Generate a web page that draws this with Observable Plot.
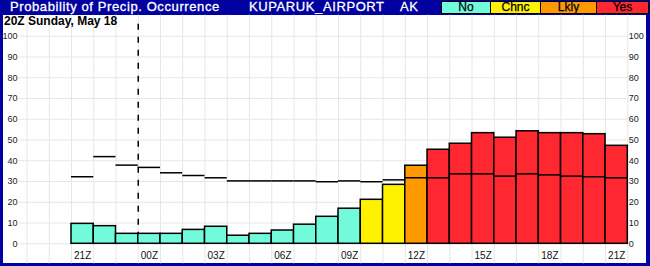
<!DOCTYPE html>
<html><head><meta charset="utf-8">
<script src="https://cdn.jsdelivr.net/npm/d3@7"></script>
<script src="https://cdn.jsdelivr.net/npm/@observablehq/plot@0.6"></script>
<style>
body{margin:0;background:#fff;}
#wrap{position:relative;width:650px;height:266px;background:#0000a0;overflow:hidden;font-family:Arial,"Liberation Sans",sans-serif;}
#panel{position:absolute;left:3px;top:15px;width:643px;height:248px;background:#fff;}
#chart{position:absolute;left:0;top:0;}
.ht{position:absolute;top:0px;color:#fff;font-size:13px;line-height:13px;letter-spacing:0.6px;white-space:nowrap;-webkit-text-stroke:0.3px #fff;}
#sub{position:absolute;left:4px;top:15px;font-size:12px;line-height:12px;font-weight:bold;color:#000;white-space:nowrap;}
.lg{position:absolute;top:1px;height:11px;border:1px solid #000;font-size:12px;line-height:11px;text-align:center;color:#000;box-sizing:content-box;-webkit-text-stroke:0.25px #000;}
</style></head>
<body>
<div id="wrap">
  <div id="panel"></div>
  <div id="chart"></div>
  <div class="ht" style="left:10px">Probability of Precip. Occurrence</div>
  <div class="ht" style="left:249px">KUPARUK_AIRPORT</div>
  <div class="ht" style="left:400px">AK</div>
  <div id="legend"></div>
  <div id="sub">20Z Sunday, May 18</div>
</div>
<script>
// Hourly categories (21Z Sun .. 21Z Mon)
const hourLabels = ["21Z","22Z","23Z","00Z","01Z","02Z","03Z","04Z","05Z","06Z","07Z","08Z","09Z","10Z","11Z","12Z","13Z","14Z","15Z","16Z","17Z","18Z","19Z","20Z","21Z"];
// Probability of precipitation occurrence (bars)
const popValues = [9.6, 8.5, 4.8, 4.8, 4.8, 6.7, 8.2, 3.9, 4.8, 6.4, 9.2, 13, 16.9, 21.2, 28.4, 37.6, 45.3, 48.2, 53.3, 51.1, 54.2, 53.3, 53.3, 52.8, 47.2];
// Reference line values (black segments)
const refValues = [32.3, 42, 37.9, 36.8, 34.2, 32.9, 31.8, 30.3, 30.3, 30.3, 30.3, 29.9, 30.3, 29.9, 30.8, 31.8, 31.8, 33.7, 33.7, 32.6, 33.7, 33.2, 32.6, 32.3, 31.8];
// Category of each hour
const popCategory = ["No","No","No","No","No","No","No","No","No","No","No","No","No","Chnc","Chnc","Lkly","Yes","Yes","Yes","Yes","Yes","Yes","Yes","Yes","Yes"];
const categoryNames = ["No","Chnc","Lkly","Yes"];
const categoryColors = ["#72fbdb","#fff200","#ff9900","#ff2830"];
// Axis ticks
const xTickLabels = ["21Z","00Z","03Z","06Z","09Z","12Z","15Z","18Z","21Z"];
const xTickHours = [0,3,6,9,12,15,18,21,24];
const yTicks = [0,10,20,30,40,50,60,70,80,90,100];
const dayBoundaryHour = [3];

const data = hourLabels.map((h, i) => ({i, h, pop: popValues[i], ref: refValues[i], cat: popCategory[i]}));
const gridHours = d3.range(-2, 26);

// legend
const lg = document.getElementById("legend");
const lgBoxes = [[441,48],[490,49],[540,55],[596,51]];
categoryNames.forEach((c, k) => {
  const d = document.createElement("div");
  d.className = "lg";
  d.style.left = lgBoxes[k][0] + "px";
  d.style.width = lgBoxes[k][1] + "px";
  d.style.background = categoryColors[k];
  d.textContent = c;
  lg.appendChild(d);
});

const chart = Plot.plot({
  width: 650,
  height: 266,
  marginLeft: 4.24,
  marginRight: 22.7,
  marginTop: 35.7,
  marginBottom: 22.7,
  style: {background: "transparent", fontFamily: "Arial, 'Liberation Sans', sans-serif"},
  x: {type: "linear", domain: [-3, 25], axis: null},
  y: {type: "linear", domain: [0, 100], axis: null},
  color: {domain: categoryNames, range: categoryColors, legend: false},
  marks: [
    Plot.ruleX(gridHours, {x: d => d, stroke: "#e6e6e6", strokeWidth: 1, insetTop: -21, insetBottom: -20}),
    Plot.ruleY(yTicks, {y: d => d, stroke: "#e6e6e6", strokeWidth: 1, insetLeft: 14}),
    Plot.ruleX(dayBoundaryHour, {x: d => d, stroke: "#000", strokeWidth: 1.5, strokeDasharray: "6,7", insetTop: -12}),
    Plot.rectY(data, {x1: d => d.i, x2: d => d.i + 1, y: "pop", fill: "cat", stroke: "#000", strokeWidth: 1.5}),
    Plot.ruleY(data, {x1: d => d.i, x2: d => d.i + 1, y: "ref", stroke: "#000", strokeWidth: 1.5}),
    Plot.text(xTickLabels, {x: (d, k) => xTickHours[k] + 0.5, frameAnchor: "bottom", dy: 12, text: d => d, fontSize: 10, fill: "#111", textAnchor: "middle", lineAnchor: "middle"}),
    Plot.text(yTicks, {y: d => d, frameAnchor: "left", dx: 12.8, text: d => String(d), fontSize: 9, fill: "#222", textAnchor: "end", lineAnchor: "middle"}),
    Plot.text(yTicks, {y: d => d, frameAnchor: "right", dx: 1, text: d => String(d), fontSize: 9, fill: "#222", textAnchor: "start", lineAnchor: "middle"})
  ]
});
document.getElementById("chart").appendChild(chart);
</script>
</body></html>
